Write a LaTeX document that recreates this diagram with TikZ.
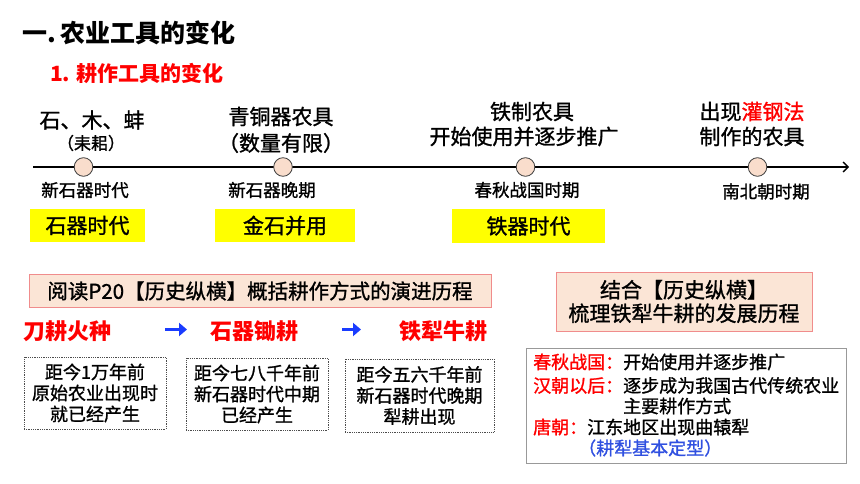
\documentclass[tikz,border=0pt]{standalone}
\usepackage{fontspec}
\setmainfont{Noto Sans CJK SC}[UprightFeatures={FakeBold=1.2}]
\usetikzlibrary{arrows.meta}
\definecolor{peach}{HTML}{FBE5D6}
\definecolor{circfill}{HTML}{F9DDCC}
\definecolor{boxred}{HTML}{F08C8C}
\definecolor{tred}{HTML}{FF0000}
\definecolor{tblue}{HTML}{1A3CFF}
\definecolor{lblue}{HTML}{3050E0}
\definecolor{yel}{HTML}{FFFF00}
\begin{document}
\begin{tikzpicture}[x=1pt,y=-1pt,
  fbig/.style={font=\fontsize{21}{25}\selectfont, inner sep=0pt},
  fsmall/.style={font=\fontsize{17.5}{21}\selectfont, inner sep=0pt},
  finfo/.style={font=\fontsize{18}{21}\selectfont, inner sep=0pt, anchor=west},
  tdot/.style={circle, draw=black!75, fill=circfill, minimum size=18.6pt, inner sep=0pt, line width=0.8pt},
  yelbox/.style={fill=yel, inner sep=0pt, minimum height=33pt, font=\fontsize{21}{25}\selectfont},
  pbox/.style={draw=boxred, fill=peach, line width=1pt, inner sep=0pt},
  dbox/.style={draw=black!70, densely dotted, line width=0.8pt, inner sep=0pt, minimum width=142pt, minimum height=72pt, align=center, font=\fontsize{18}{21}\selectfont},
  redkey/.style={text=tred, font=\fontsize{22}{26}\selectfont\bfseries, inner sep=0pt},
  barrow/.style={draw=tblue, line width=3.6pt, -{Triangle[length=8pt,width=13pt]}}
]
\useasboundingbox (0,0) rectangle (860,484);
% titles
\node[anchor=west, inner sep=0pt, font=\fontsize{25}{30}\selectfont\bfseries] (title) at (22,33) {一.\,农业工具的变化};
\node[anchor=west, inner sep=0pt, text=tred, font=\fontsize{21}{25}\selectfont\bfseries] (sub) at (50,73) {1. 耕作工具的变化};
% timeline
\coordinate (tl0) at (33,167);
\coordinate (tl1) at (849,167);
\draw[line width=1.4pt, -{Straight Barb[length=5pt,width=10pt]}] (tl0) -- (tl1);
\node[tdot] (c1) at (83.5,167) {};
\node[tdot] (c2) at (283,167) {};
\node[tdot] (c3) at (525.5,167) {};
\node[tdot] (c4) at (757.5,167) {};
% labels above
\node[fbig] (u1a) at (92,120) {石、木、蚌};
\node[inner sep=0pt, font=\fontsize{17}{20}\selectfont] (u1b) at (91,143) {（耒耜）};
\node[fbig] (u2a) at (281,116.5) {青铜器农具};
\node[fbig] (u2b) at (281,143) {（数量有限）};
\node[fbig] (u3a) at (532,111.5) {铁制农具};
\node[fbig] (u3b) at (524,136.5) {开始使用并逐步推广};
\node[fbig] (u4a) at (752,111.5) {出现\textcolor{tred}{灌钢法}};
\node[fbig] (u4b) at (752,136.5) {制作的农具};
% labels below
\node[fsmall] (d1) at (85,190) {新石器时代};
\node[fsmall] (d2) at (272,190) {新石器晚期};
\node[fsmall] (d3) at (527,190) {春秋战国时期};
\node[fsmall] (d4) at (766,191.5) {南北朝时期};
% yellow boxes
\node[yelbox, minimum width=115pt] (y1) at (87.5,225.5) {石器时代};
\node[yelbox, minimum width=140pt] (y2) at (285,225.5) {金石并用};
\node[yelbox, minimum width=153pt] (y3) at (528.5,226) {铁器时代};
% reading box
\node[pbox, minimum width=462pt, minimum height=33pt, font=\fontsize{20.5}{24}\selectfont] (read) at (260,291) {阅读P20【历史纵横】概括耕作方式的演进历程};
% stages
\node[redkey] (s1) at (67.5,331) {刀耕火种};
\node[redkey] (s2) at (254,331) {石器锄耕};
\node[redkey] (s3) at (443,331) {铁犁牛耕};
\coordinate (a1s) at (165,329.5);
\coordinate (a1e) at (187,329.5);
\coordinate (a2s) at (342,329.5);
\coordinate (a2e) at (361,329.5);
\draw[barrow] (a1s) -- (a1e);
\draw[barrow] (a2s) -- (a2e);
% dotted boxes
\node[dbox] (b1) at (95,393) {距今1万年前\\原始农业出现时\\就已经产生};
\node[dbox, minimum width=142pt] (b2) at (257,394) {距今七八千年前\\新石器时代中期\\已经产生};
\node[dbox, minimum width=149pt, minimum height=73pt] (b3) at (419.5,395.5) {距今五六千年前\\新石器时代晚期\\犁耕出现};
% right top box
\node[pbox, minimum width=256pt, minimum height=59pt, align=center, font=\fontsize{21}{23.5}\selectfont] (comb) at (684,301.5) {结合【历史纵横】\\梳理铁犁牛耕的发展历程};
% info box
\node[draw=black!40, line width=1pt, minimum width=320pt, minimum height=115pt, inner sep=0pt] (info) at (686,405.5) {};
\node[finfo] (i1) at (533,362) {\textcolor{tred}{春秋战国：}开始使用并逐步推广};
\node[finfo] (i2) at (533,385.5) {\textcolor{tred}{汉朝以后：}逐步成为我国古代传统农业};
\node[finfo] (i3) at (623,406) {主要耕作方式};
\node[finfo] (i4) at (533,427) {\textcolor{tred}{唐朝：}江东地区出现曲辕犁};
\node[finfo, text=lblue] (i5) at (578,448) {（耕犁基本定型）};
\end{tikzpicture}
\end{document}
